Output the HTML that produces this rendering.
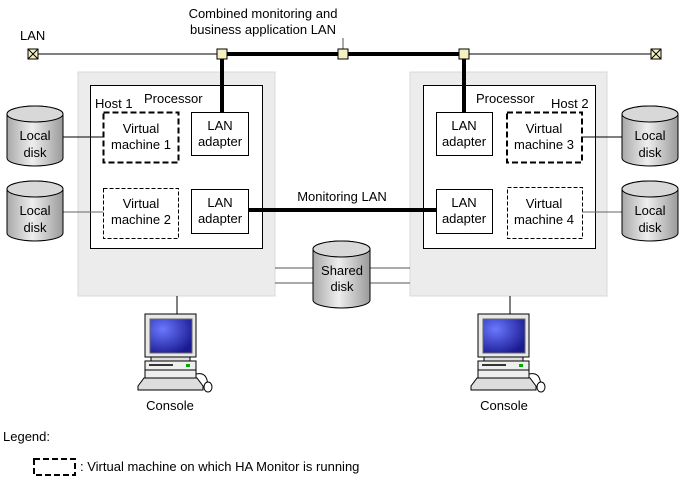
<!DOCTYPE html>
<html><head><meta charset="utf-8"><style>
body{margin:0;background:#fff}
svg text{font-family:"Liberation Sans",Arial,sans-serif;font-size:13px;fill:#000}
</style></head><body>
<svg width="685" height="481" viewBox="0 0 685 481" xmlns="http://www.w3.org/2000/svg">
<defs>
<linearGradient id="cy" x1="0" x2="1" y1="0" y2="0">
<stop offset="0" stop-color="#a8a8a8"/><stop offset="0.45" stop-color="#eeeeee"/><stop offset="1" stop-color="#9a9a9a"/>
</linearGradient>
<radialGradient id="scr" cx="0.3" cy="0.3" r="0.8">
<stop offset="0" stop-color="#6a78ff"/><stop offset="1" stop-color="#1a1a90"/>
</radialGradient>
<g id="cyl">
<path d="M0,8 A28,8 0 0 1 56,8 L56,52 A28,8 0 0 1 0,52 Z" fill="url(#cy)" stroke="#000" stroke-width="1"/>
<ellipse cx="28" cy="8" rx="28" ry="8" fill="#d8d8d8" stroke="#000" stroke-width="1"/>
</g>
<g id="con">
<rect x="0" y="0" width="51" height="43" fill="#e8e8e8" stroke="#000"/>
<rect x="5" y="5" width="42" height="34" fill="url(#scr)" stroke="#666"/>
<rect x="6" y="43" width="39" height="4" fill="#ddd" stroke="#000"/>
<rect x="0" y="47" width="51" height="9" fill="#eee" stroke="#000"/>
<rect x="0" y="56" width="51" height="8" fill="#eee" stroke="#000"/>
<rect x="4" y="50" width="24" height="2" fill="#333"/>
<rect x="41" y="50" width="4" height="3" fill="#0a0"/>
<path d="M-1,64 L52,64 L58,72 L58,76 L-7,76 L-7,72 Z" fill="#ddd" stroke="#000"/>
<path d="M51,60 Q60,58 62,66 L63,70" fill="none" stroke="#000"/>
<ellipse cx="63" cy="73" rx="4" ry="5" fill="#fff" stroke="#000"/>
</g>
</defs>

<!-- LAN -->
<line x1="33" y1="54" x2="656" y2="54" stroke="#000" stroke-width="1"/>
<line x1="222" y1="54" x2="464" y2="54" stroke="#000" stroke-width="4"/>
<line x1="343" y1="38" x2="343" y2="49" stroke="#555"/>
<text x="20" y="40">LAN</text>
<text x="263" y="18" text-anchor="middle">Combined monitoring and</text>
<text x="263" y="34" text-anchor="middle">business application LAN</text>
<g fill="#f5f0c0" stroke="#000">
<rect x="28" y="49" width="10" height="10"/><line x1="28" y1="49" x2="38" y2="59"/><line x1="38" y1="49" x2="28" y2="59"/>
<rect x="651" y="49" width="10" height="10"/><line x1="651" y1="49" x2="661" y2="59"/><line x1="661" y1="49" x2="651" y2="59"/>
</g>

<!-- host boxes -->
<rect x="78" y="72" width="197" height="224" fill="#ececec" stroke="#d8d8d8"/>
<rect x="410" y="72" width="197" height="224" fill="#ececec" stroke="#d8d8d8"/>
<rect x="90.5" y="85.5" width="172" height="163" fill="#fff" stroke="#000"/>
<rect x="423.5" y="85.5" width="172" height="163" fill="#fff" stroke="#000"/>

<line x1="222" y1="54" x2="222" y2="112" stroke="#000" stroke-width="4"/>
<line x1="464" y1="54" x2="464" y2="112" stroke="#000" stroke-width="4"/>
<g fill="#f5f0c0" stroke="#000">
<rect x="217" y="49" width="10" height="10"/><rect x="338" y="49" width="10" height="10"/><rect x="459" y="49" width="10" height="10"/>
</g>

<text x="144" y="103">Processor</text>
<text x="95" y="108">Host 1</text>
<text x="476" y="103">Processor</text>
<text x="551" y="108">Host 2</text>

<g fill="#fff" stroke="#000">
<rect x="191.5" y="112.5" width="57" height="43"/>
<rect x="191.5" y="189.5" width="57" height="44"/>
<rect x="436.5" y="112.5" width="56" height="43"/>
<rect x="436.5" y="189.5" width="56" height="44"/>
</g>
<rect x="103.5" y="112.5" width="75" height="50" fill="#fff" stroke="#000" stroke-width="2" stroke-dasharray="6,3"/>
<rect x="507" y="112.5" width="75" height="50" fill="#fff" stroke="#000" stroke-width="2" stroke-dasharray="6,3"/>
<rect x="103.5" y="188.5" width="75" height="50" fill="#fff" stroke="#000" stroke-dasharray="4,2"/>
<rect x="507.5" y="187.5" width="75" height="51" fill="#fff" stroke="#000" stroke-dasharray="4,2"/>

<g text-anchor="middle">
<text x="220" y="130">LAN</text><text x="220" y="146">adapter</text>
<text x="220" y="207">LAN</text><text x="220" y="223">adapter</text>
<text x="464" y="130">LAN</text><text x="464" y="146">adapter</text>
<text x="464" y="207">LAN</text><text x="464" y="223">adapter</text>
<text x="141" y="133">Virtual</text><text x="141" y="149">machine 1</text>
<text x="141" y="208">Virtual</text><text x="141" y="224">machine 2</text>
<text x="544" y="133">Virtual</text><text x="544" y="149">machine 3</text>
<text x="544" y="208">Virtual</text><text x="544" y="224">machine 4</text>
</g>

<line x1="248" y1="210" x2="436" y2="210" stroke="#000" stroke-width="4"/>
<text x="342" y="201" text-anchor="middle">Monitoring LAN</text>

<!-- local disks -->
<g stroke="#000"><line x1="63" y1="137" x2="103" y2="137"/><line x1="582" y1="137" x2="622" y2="137"/></g>
<g stroke="#666"><line x1="63" y1="212" x2="103" y2="212" /><line x1="582" y1="212" x2="622" y2="212"/></g>
<use href="#cyl" x="7" y="106"/><use href="#cyl" x="7" y="181"/>
<use href="#cyl" x="622" y="106"/><use href="#cyl" x="622" y="181"/>
<g text-anchor="middle">
<text x="35" y="140">Local</text><text x="35" y="157">disk</text>
<text x="35" y="215">Local</text><text x="35" y="232">disk</text>
<text x="650" y="140">Local</text><text x="650" y="157">disk</text>
<text x="650" y="215">Local</text><text x="650" y="232">disk</text>
</g>

<!-- shared disk -->
<g stroke="#555"><line x1="275" y1="268" x2="313" y2="268"/><line x1="275" y1="283" x2="313" y2="283"/>
<line x1="370" y1="268" x2="410" y2="268"/><line x1="370" y1="283" x2="410" y2="283"/></g>
<path d="M313,249 A28.5,8 0 0 1 370,249 L370,300 A28.5,8 0 0 1 313,300 Z" fill="url(#cy)" stroke="#000"/>
<ellipse cx="341.5" cy="249" rx="28.5" ry="8" fill="#d8d8d8" stroke="#000"/>
<text x="342" y="275" text-anchor="middle">Shared</text><text x="342" y="291" text-anchor="middle">disk</text>

<!-- consoles -->
<line x1="177" y1="296" x2="177" y2="314" stroke="#000"/>
<line x1="510" y1="296" x2="510" y2="314" stroke="#000"/>
<use href="#con" x="145" y="314"/>
<use href="#con" x="478" y="314"/>
<text x="170" y="410" text-anchor="middle">Console</text>
<text x="504" y="410" text-anchor="middle">Console</text>

<!-- legend -->
<text x="3" y="441">Legend:</text>
<rect x="34" y="459" width="41" height="16" fill="none" stroke="#000" stroke-width="2" stroke-dasharray="6,3"/>
<text x="80" y="471">: Virtual machine on which HA Monitor is running</text>
</svg>
</body></html>
